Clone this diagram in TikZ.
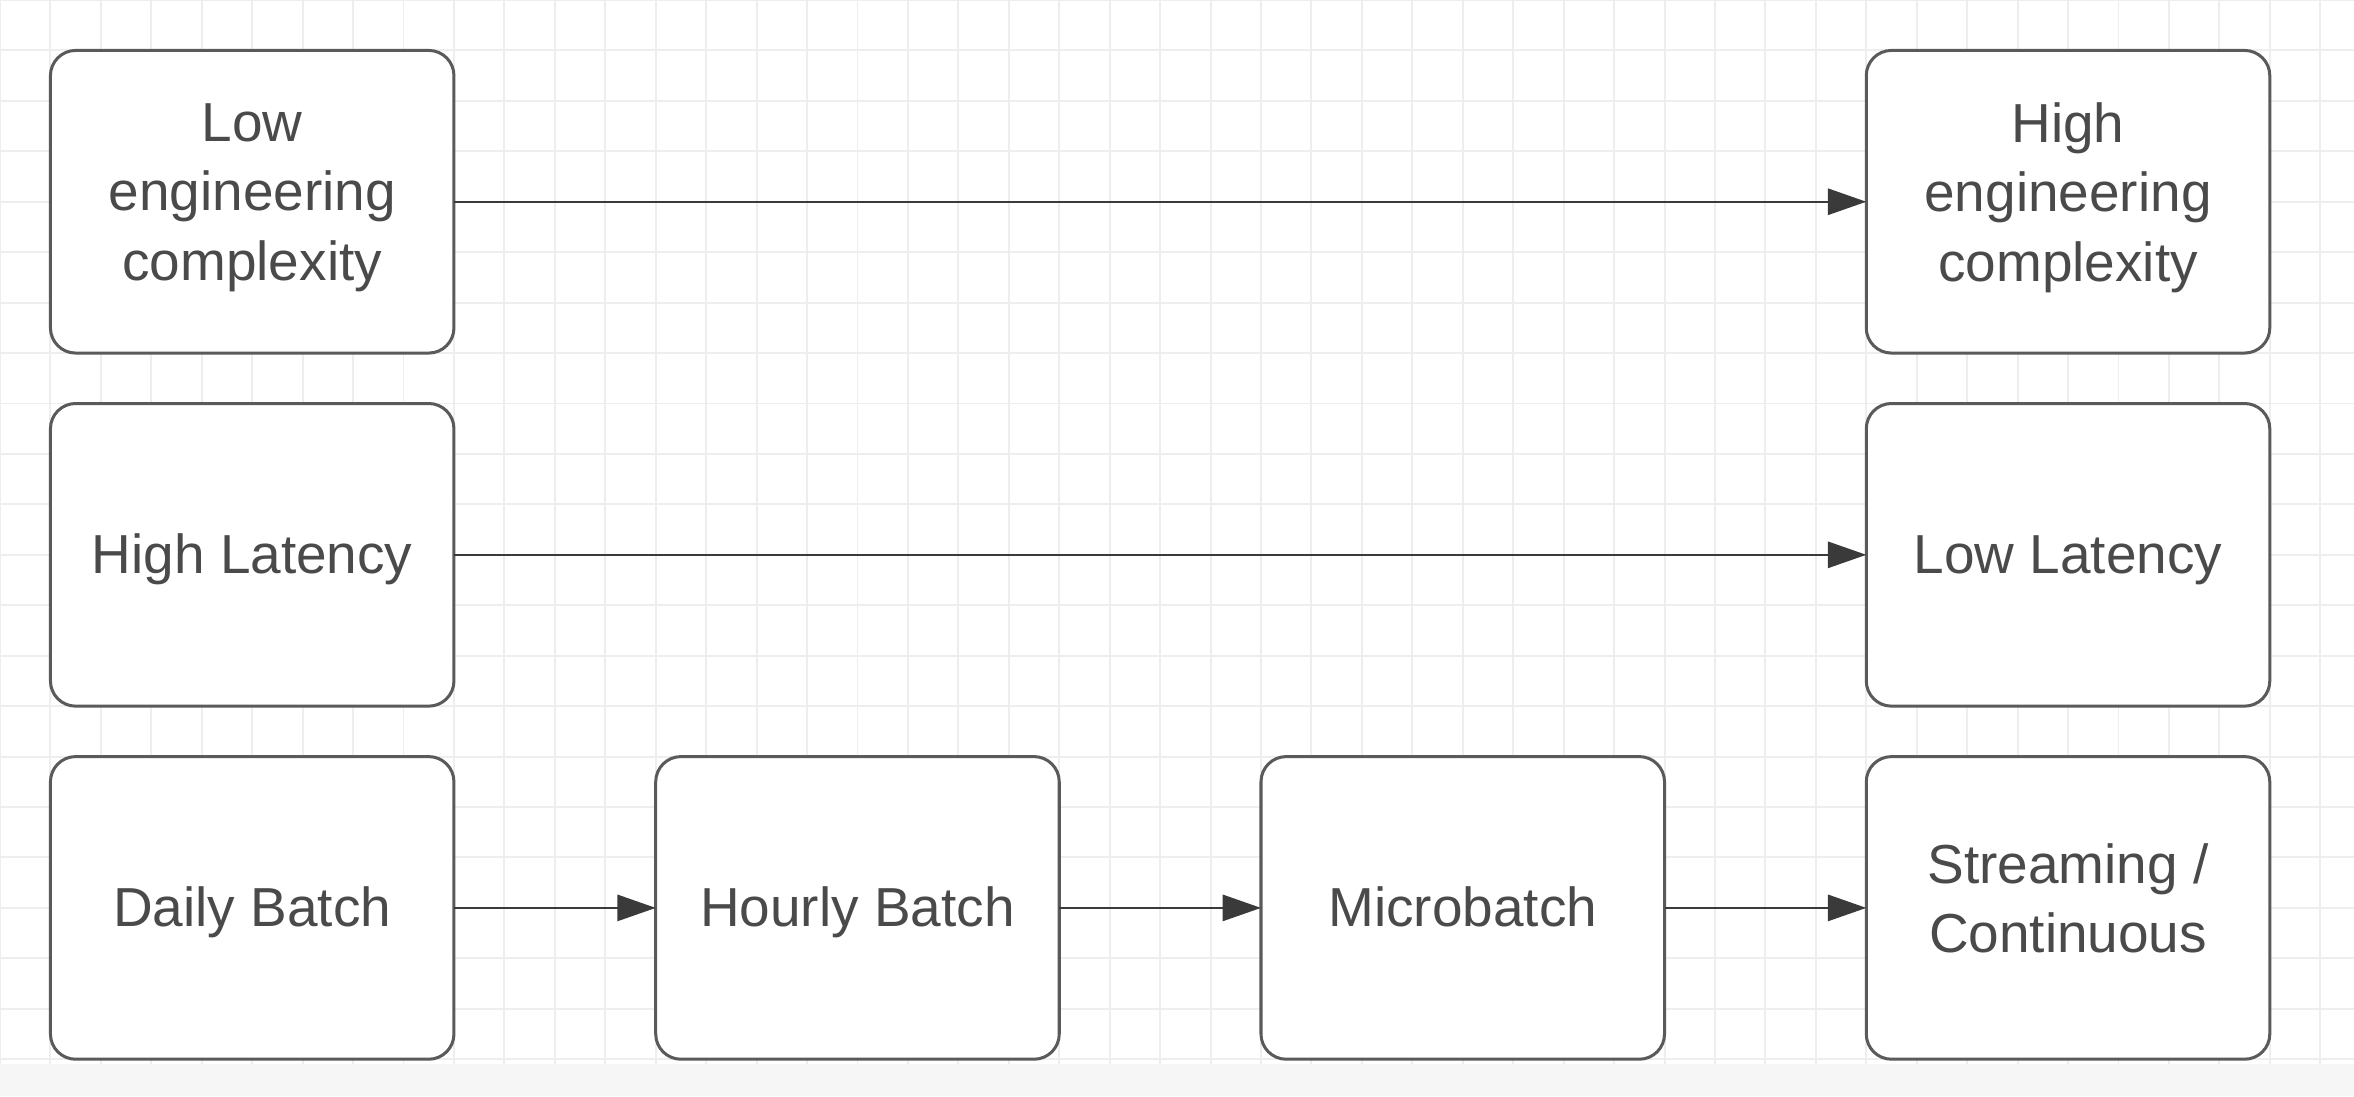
\documentclass[tikz,border=0pt]{standalone}
\usepackage{fontspec}
\setmainfont{Liberation Sans}
\usetikzlibrary{positioning,arrows.meta}
\definecolor{gridgray}{HTML}{EEEEEE}
\definecolor{boxgray}{HTML}{5A5A5A}
\definecolor{textgray}{HTML}{4A4A4A}
\definecolor{arrowgray}{HTML}{3A3A3A}
\begin{document}
\begin{tikzpicture}[x=0.5cm,y=0.5cm,
  stage/.style={draw=boxgray,line width=0.85pt,rounded corners=2.5mm,fill=white,
    minimum width=4cm,minimum height=3cm,inner sep=0pt,outer sep=0pt,align=center,
    text=textgray,font=\fontsize{15.5}{19.5}\selectfont,
    execute at begin node={\rule[-5.5pt]{0pt}{21.5pt}}},
  flow/.style={draw=arrowgray,line width=0.6pt,-{Triangle[length=3.8mm,width=2.6mm]}}]
\useasboundingbox (0,0) rectangle (46.67,-21.73);
\fill[white] (0,0) rectangle (46.67,-21.73);
\draw[gridgray,line width=0.55pt,step=0.5cm] (0,-21.73) grid (46.67,0);
\fill[gray!7] (0,-21.1) rectangle (46.67,-21.73);
\node[stage,anchor=north west] (lowcx) at (1,-1) {Low\\engineering\\complexity};
\node[stage,right=14cm of lowcx] (highcx) {High\\engineering\\complexity};
\node[stage,below=0.5cm of lowcx] (highlat) {High Latency};
\node[stage,below=0.5cm of highcx] (lowlat) {Low Latency};
\node[stage,below=0.5cm of highlat] (daily) {Daily Batch};
\node[stage,right=2cm of daily] (hourly) {Hourly Batch};
\node[stage,right=2cm of hourly] (micro) {Microbatch};
\node[stage,right=2cm of micro] (stream) {Streaming /\\Continuous};
\draw[flow] (lowcx) -- (highcx);
\draw[flow] (highlat) -- (lowlat);
\draw[flow] (daily) -- (hourly);
\draw[flow] (hourly) -- (micro);
\draw[flow] (micro) -- (stream);
\end{tikzpicture}
\end{document}
